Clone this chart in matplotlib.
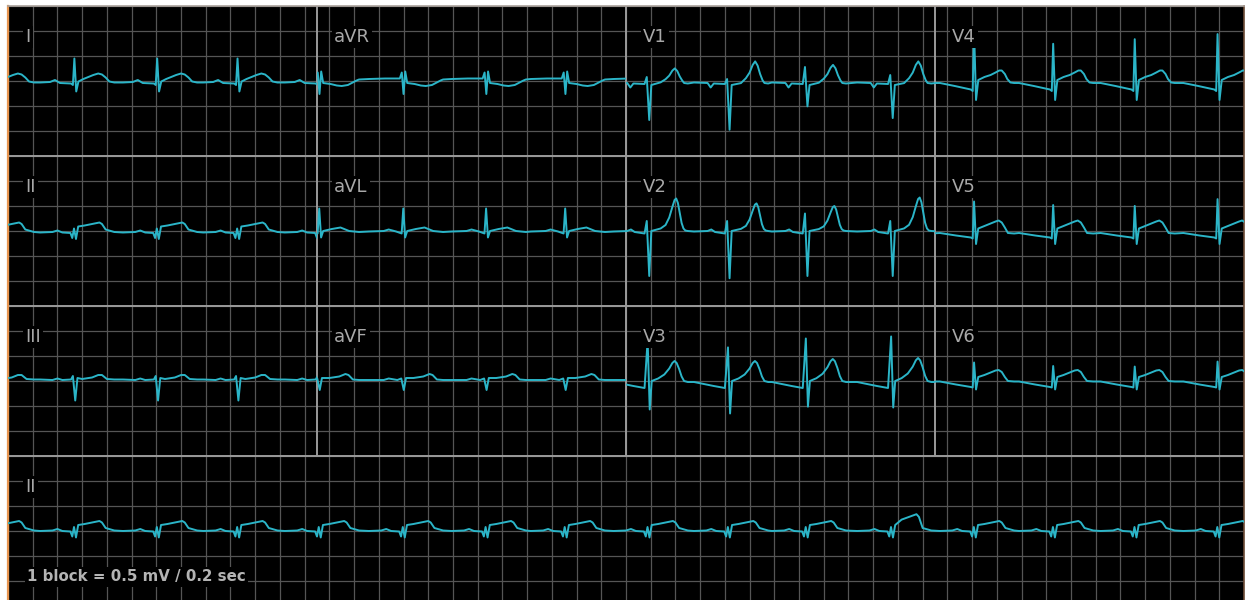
import numpy as np
import matplotlib
matplotlib.use("Agg")
import matplotlib.pyplot as plt
from matplotlib.patches import Rectangle

# ---------------- data ----------------
# QRS times in seconds (shared by all simultaneously recorded leads)
beat_times = [-0.11, 0.54, 1.21, 1.86, 2.52, 3.20, 3.87, 4.51,
              5.18, 5.83, 6.46, 7.15, 7.82, 8.46, 9.12, 9.79]

# Layout of the 12-lead part: rows x columns of lead names
grid_rows = [["I", "aVR", "V1", "V4"],
             ["II", "aVL", "V2", "V5"],
             ["III", "aVF", "V3", "V6"]]
rhythm_lead = "II"

# Beat morphologies: (time from R in s, amplitude in mV, tag)
# tag: b = baseline, r = R-wave, s = S/Q-wave, t = T-wave
wave_I = [(-0.28, -0.03, 'b'), (-0.20, -0.02, 'b'), (-0.16, 0.02, 'b'), (-0.12, -0.04, 'b'),
          (-0.03, -0.05, 'b'), (-0.015, -0.08, 'b'), (-0.003, 0.45, 'r'), (0.012, -0.21, 's'),
          (0.03, -0.01, 'b'), (0.07, 0.04, 't'), (0.11, 0.08, 't'), (0.15, 0.12, 't'),
          (0.19, 0.15, 't'), (0.22, 0.13, 't'), (0.25, 0.07, 't'), (0.28, -0.01, 'b'),
          (0.32, -0.03, 'b')]
wave_II = [(-0.28, -0.03, 'b'), (-0.18, -0.02, 'b'), (-0.14, 0.01, 'b'), (-0.10, -0.03, 'b'),
           (-0.035, -0.04, 'b'), (-0.02, -0.14, 's'), (-0.006, 0.05, 'r'), (0.01, -0.16, 's'),
           (0.028, 0.09, 'b'), (0.08, 0.11, 't'), (0.16, 0.15, 't'), (0.20, 0.17, 't'),
           (0.22, 0.14, 't'), (0.25, 0.03, 'b'), (0.32, -0.02, 'b')]
wave_III = [(-0.28, 0.03, 'b'), (-0.18, 0.02, 'b'), (-0.14, 0.05, 'b'), (-0.10, 0.02, 'b'),
            (-0.03, 0.03, 'b'), (-0.015, 0.10, 'r'), (0.004, -0.39, 's'), (0.022, 0.06, 'b'),
            (0.06, 0.04, 'b'), (0.14, 0.07, 't'), (0.19, 0.12, 't'), (0.22, 0.12, 't'),
            (0.26, 0.04, 'b'), (0.32, 0.03, 'b')]
wave_aVR = [(-0.28, 0.04, 'b'), (-0.15, 0.05, 'b'), (-0.03, 0.05, 'b'), (-0.014, 0.17, 'r'),
            (0.0, -0.26, 's'), (0.014, 0.19, 'r'), (0.03, -0.04, 'b'), (0.09, -0.06, 't'),
            (0.14, -0.09, 't'), (0.18, -0.10, 't'), (0.23, -0.08, 't'), (0.30, 0.01, 'b'),
            (0.32, 0.03, 'b')]
wave_aVL = [(-0.28, -0.01, 'b'), (-0.16, 0.0, 'b'), (-0.12, 0.03, 'b'), (-0.06, -0.01, 'b'),
            (-0.015, -0.05, 's'), (-0.002, 0.45, 'r'), (0.013, -0.13, 's'), (0.03, 0.0, 'b'),
            (0.10, 0.04, 't'), (0.17, 0.07, 't'), (0.24, 0.0, 'b'), (0.32, -0.02, 'b')]
wave_aVF = [(-0.28, 0.02, 'b'), (-0.16, 0.02, 'b'), (-0.12, 0.05, 'b'), (-0.05, 0.02, 'b'),
            (-0.018, 0.05, 'r'), (0.002, -0.18, 's'), (0.02, 0.06, 'b'), (0.08, 0.06, 't'),
            (0.16, 0.09, 't'), (0.21, 0.14, 't'), (0.235, 0.12, 't'), (0.27, 0.03, 'b'),
            (0.32, 0.02, 'b')]
wave_V1 = [(-0.28, -0.03, 'b'), (-0.17, -0.04, 'b'), (-0.145, -0.13, 'b'), (-0.12, -0.05, 'b'),
           (-0.03, -0.06, 'b'), (-0.012, 0.08, 'r'), (0.008, -0.78, 's'), (0.025, -0.08, 'b'),
           (0.10, -0.03, 't'), (0.14, 0.04, 't'), (0.17, 0.12, 't'), (0.195, 0.23, 't'),
           (0.215, 0.28, 't'), (0.235, 0.22, 't'), (0.255, 0.10, 't'), (0.275, 0.01, 't'),
           (0.29, -0.04, 'b'), (0.32, -0.05, 'b')]
wave_V2 = [(-0.28, -0.01, 'b'), (-0.17, 0.0, 'b'), (-0.14, 0.03, 'b'), (-0.11, -0.02, 'b'),
           (-0.03, -0.05, 'b'), (-0.012, 0.20, 'r'), (0.008, -0.90, 's'), (0.025, 0.0, 'b'),
           (0.10, 0.05, 't'), (0.14, 0.12, 't'), (0.17, 0.27, 't'), (0.195, 0.48, 't'),
           (0.213, 0.62, 't'), (0.226, 0.65, 't'), (0.24, 0.56, 't'), (0.255, 0.36, 't'),
           (0.27, 0.16, 't'), (0.285, 0.05, 't'), (0.30, 0.01, 'b'), (0.32, 0.0, 'b')]
wave_V3 = [(-0.28, -0.02, 'b'), (-0.20, -0.06, 'b'), (-0.12, -0.10, 'b'), (-0.03, -0.14, 'b'),
           (-0.005, 0.81, 'r'), (0.012, -0.57, 's'), (0.028, 0.0, 'b'), (0.08, 0.05, 't'),
           (0.13, 0.13, 't'), (0.17, 0.25, 't'), (0.195, 0.36, 't'), (0.213, 0.40, 't'),
           (0.23, 0.36, 't'), (0.25, 0.24, 't'), (0.27, 0.09, 't'), (0.29, 0.0, 'b'),
           (0.32, -0.02, 'b')]
wave_V4 = [(-0.28, -0.04, 'b'), (-0.16, -0.10, 'b'), (-0.03, -0.17, 'b'), (-0.015, -0.20, 'b'),
           (-0.004, 1.02, 'r'), (0.012, -0.38, 's'), (0.03, 0.02, 'b'), (0.08, 0.08, 't'),
           (0.13, 0.12, 't'), (0.17, 0.17, 't'), (0.20, 0.21, 't'), (0.22, 0.21, 't'),
           (0.245, 0.14, 't'), (0.265, 0.04, 't'), (0.29, -0.03, 'b'), (0.32, -0.04, 'b')]
wave_V5 = [(-0.28, -0.04, 'b'), (-0.15, -0.09, 'b'), (-0.03, -0.13, 'b'), (-0.015, -0.15, 'b'),
           (-0.004, 0.59, 'r'), (0.012, -0.26, 's'), (0.03, 0.05, 'b'), (0.08, 0.10, 't'),
           (0.13, 0.15, 't'), (0.17, 0.19, 't'), (0.195, 0.21, 't'), (0.22, 0.17, 't'),
           (0.245, 0.07, 't'), (0.27, -0.04, 'b'), (0.32, -0.05, 'b')]
wave_V6 = [(-0.28, -0.01, 'b'), (-0.15, -0.07, 'b'), (-0.03, -0.12, 'b'), (-0.015, -0.13, 'b'),
           (-0.004, 0.37, 'r'), (0.012, -0.17, 's'), (0.03, 0.08, 'b'), (0.08, 0.12, 't'),
           (0.13, 0.17, 't'), (0.17, 0.21, 't'), (0.195, 0.22, 't'), (0.22, 0.18, 't'),
           (0.245, 0.08, 't'), (0.27, 0.0, 'b'), (0.32, -0.01, 'b')]

# Beat-to-beat amplitude changes: {beat index: factor}
r_scale_V1 = {9: 0.5, 10: 3.5, 11: 1.5}
s_scale_V1 = {9: 1.25, 10: 0.65, 11: 0.95}
t_scale_V1 = {8: 0.9, 9: 1.4, 10: 1.15, 11: 1.4}
r_scale_V2 = {10: 1.75}
s_scale_V2 = {9: 1.05}
t_scale_V2 = {9: 0.85, 10: 0.77, 11: 1.03}
r_scale_V3 = {9: 0.83, 10: 1.05, 11: 1.1}
s_scale_V3 = {9: 1.14, 10: 0.9, 11: 0.93}
t_scale_V3 = {10: 1.1, 11: 1.15}
r_scale_V4 = {13: 0.73, 14: 0.82, 15: 0.92}
r_scale_V5 = {13: 0.88, 14: 0.85, 15: 1.08}
r_scale_V6 = {13: 0.81, 14: 0.78, 15: 1.05}
t_scale_rhythm = {11: 1.8}
rhythm_offset = 0.03

footer_text = "1 block = 0.5 mV / 0.2 sec"

# ---------------- assemble ----------------
waves = {"I": wave_I, "II": wave_II, "III": wave_III, "aVR": wave_aVR, "aVL": wave_aVL,
         "aVF": wave_aVF, "V1": wave_V1, "V2": wave_V2, "V3": wave_V3, "V4": wave_V4,
         "V5": wave_V5, "V6": wave_V6}
scales = {"V1": (r_scale_V1, s_scale_V1, t_scale_V1),
          "V2": (r_scale_V2, s_scale_V2, t_scale_V2),
          "V3": (r_scale_V3, s_scale_V3, t_scale_V3),
          "V4": (r_scale_V4, {}, {}),
          "V5": (r_scale_V5, {}, {}),
          "V6": (r_scale_V6, {}, {})}


def build_trace(wave, rs, ss, ts, offset=0.0):
    xs, ys = [], []
    for k, bt in enumerate(beat_times):
        f = {'b': 1.0, 'r': rs.get(k, 1.0), 's': ss.get(k, 1.0), 't': ts.get(k, 1.0)}
        for dt, mv, tag in wave:
            xs.append(bt + dt)
            ys.append(mv * f[tag] + offset)
    return np.array(xs), np.array(ys)


TRACE = "#2bb5c8"
GRID = "#555555"
SEP = "#9a9a9a"
LABEL = "#a8a8a8"

fig = plt.figure(figsize=(12.48, 6.0), dpi=100, facecolor="white")
ax = fig.add_axes([8 / 1248, -6 / 600, 1236 / 1248, 600 / 600])
ax.set_facecolor("black")
ax.set_xlim(0, 10)
ax.set_ylim(-12, 0)
ax.set_xticks(np.arange(0, 10.001, 0.2))
ax.set_yticks(np.arange(-12, 0.001, 0.5))
ax.tick_params(length=0, labelbottom=False, labelleft=False)
ax.grid(True, color=GRID, lw=0.9)
ax.set_axisbelow(True)

# section separators
for r in range(1, 4):
    ax.axhline(-3 * r, color=SEP, lw=1.4, zorder=1.5)
for c in range(1, 4):
    ax.plot([2.5 * c, 2.5 * c], [-9, 0], color=SEP, lw=1.4, zorder=1.5)

# 12-lead traces
for r, row in enumerate(grid_rows):
    base = -1.5 - 3 * r
    for c, name in enumerate(row):
        rs, ss, ts = scales.get(name, ({}, {}, {}))
        x, y = build_trace(waves[name], rs, ss, ts)
        line, = ax.plot(x, y + base, color=TRACE, lw=1.4, zorder=3,
                        solid_joinstyle="round")
        line.set_clip_path(Rectangle((2.5 * c, -3 * (r + 1)), 2.5, 3,
                                     transform=ax.transData))
        ax.text(2.5 * c + 0.14, -3 * r - 0.62, name, color=LABEL, fontsize=13,
                ha="left", va="center", zorder=4,
                bbox=dict(facecolor="black", edgecolor="none", pad=1.5))

# rhythm strip
x, y = build_trace(waves[rhythm_lead], {}, {}, t_scale_rhythm, rhythm_offset)
line, = ax.plot(x, y - 10.5, color=TRACE, lw=1.4, zorder=3, solid_joinstyle="round")
line.set_clip_path(Rectangle((0, -12), 10, 3, transform=ax.transData))
ax.text(0.14, -9.62, rhythm_lead, color=LABEL, fontsize=13, ha="left", va="center",
        zorder=4, bbox=dict(facecolor="black", edgecolor="none", pad=1.5))

ax.text(0.155, -11.42, footer_text, color="#b4b4b4", fontsize=10.8, fontweight="bold",
        ha="left", va="center", zorder=4,
        bbox=dict(facecolor="black", edgecolor="none", pad=1.5))

# frame
ax.spines["left"].set_color("#e8954f")
ax.spines["left"].set_linewidth(1.6)
ax.spines["top"].set_color("#aaa29c")
ax.spines["top"].set_linewidth(1.2)
ax.spines["right"].set_color("#6b4a35")
ax.spines["right"].set_linewidth(1.2)
ax.spines["bottom"].set_visible(False)

fig.savefig("out.png", dpi=100, facecolor="white")
